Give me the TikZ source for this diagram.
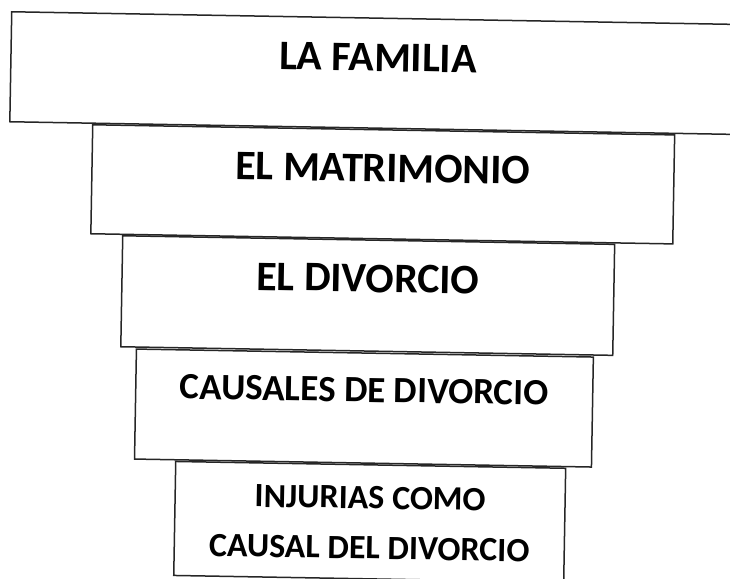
\documentclass[tikz,border=0pt]{standalone}
\usepackage{fontspec}
\setmainfont{Carlito}
\usepackage{tikz}

\begin{document}
\begin{tikzpicture}[
            x=1pt, y=-1pt,
            every node/.style={font=\bfseries},
            caja/.style={draw=black!85, line width=1.5pt, fill=white,
                rotate=-1, anchor=north west, inner sep=0pt},
            grande/.style={font=\bfseries\fontsize{42}{50}\selectfont}
        ]
            \useasboundingbox (0,0) rectangle (730,578);
            \node[caja, grande, minimum width=734pt, text height=53pt, text depth=57pt]
                (familia) at (11,11) {LA FAMILIA};
            \node[caja, grande, minimum width=582pt, text height=52pt, text depth=57pt]
                (matrimonio) at (92,124) {EL MATRIMONIO};
            \node[caja, grande, minimum width=492pt, text height=52pt, text depth=59pt]
                (divorcio) at (122,235) {EL DIVORCIO};
            \node[caja, minimum width=457pt, text height=49pt, text depth=61pt,
                font=\bfseries\fontsize{37}{50}\selectfont]
                (causales) at (135.7,348.3) {CAUSALES DE DIVORCIO};
            \node[caja, minimum width=390pt, text height=44pt, text depth=70pt,
                font=\bfseries\fontsize{34}{50}\selectfont]
                (injurias) at (175,460.7)
                {\begin{tabular}[t]{@{}c@{}}INJURIAS COMO\\CAUSAL DEL DIVORCIO\end{tabular}};
        \end{tikzpicture}
\end{document}
